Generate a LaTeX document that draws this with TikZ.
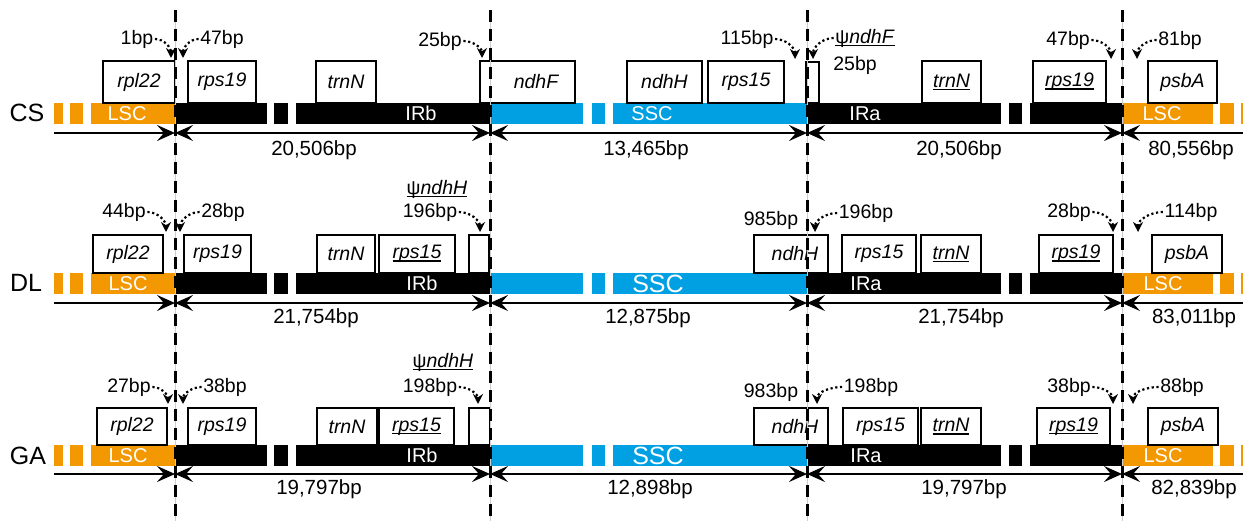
\documentclass[tikz,border=0pt]{standalone}
\usepackage{fontspec}
\setmainfont{Liberation Sans}
\usetikzlibrary{arrows.meta}

\definecolor{lscorange}{RGB}{243,152,0}
\definecolor{sscblue}{RGB}{0,160,227}
\definecolor{guidegray}{RGB}{205,205,205}

% underline that sits just below the baseline
\newcommand\ulgene[1]{\setbox0\hbox{#1}\rlap{\vrule width\wd0 height -1.6pt depth 3.0pt}\box0}

% one genome bar: LSC | IRb | SSC | IRa | LSC, with white stripes
\newcommand\segments[2]{%
  \fill[lscorange] (54,#1) rectangle (175,#2);
  \fill[black] (175,#1) rectangle (490,#2);
  \fill[sscblue] (490,#1) rectangle (807,#2);
  \fill[black] (807,#1) rectangle (1122,#2);
  \fill[lscorange] (1122,#1) rectangle (1243,#2);
  \foreach \a/\b in {63/70,83/91,267/274,288/296,583/592,605/613,1001/1009,1022/1030,1213/1220,1234/1241}
    \fill[white] (\a,#1) rectangle (\b,#2);
}

% gene box: name, left, right, top, bottom, text
\newcommand\gene[6]{%
  \node[genebox, minimum width={(#3-#2)*1pt}, minimum height={(#5-#4)*1pt}]
    (#1) at ({(#2+#3)/2},{(#4+#5)/2}) {#6};}

% length line with arrow tips at every junction
\newcommand\spanline[2]{%
  \coordinate (#1s0) at (54,#2);
  \coordinate (#1s1) at (175,#2);
  \coordinate (#1s2) at (490,#2);
  \coordinate (#1s3) at (807,#2);
  \coordinate (#1s4) at (1122,#2);
  \coordinate (#1s5) at (1243,#2);
  \draw[lenline, -{bigtip}] (#1s0) -- (#1s1);
  \draw[lenline, {bigtip}-{bigtip}] (#1s1) -- (#1s2);
  \draw[lenline, {bigtip}-{bigtip}] (#1s2) -- (#1s3);
  \draw[lenline, {bigtip}-{bigtip}] (#1s3) -- (#1s4);
  \draw[lenline, {bigtip}-] (#1s4) -- (#1s5);
}

\tikzset{
  bigtip/.tip={Stealth[length=18pt,width=16pt,inset=7pt]},
  genebox/.style={draw, line width=1.8pt, fill=white, inner sep=0pt,
    font=\fontsize{19.5}{19.5}\selectfont\itshape},
  genetext/.style={inner sep=0pt, font=\fontsize{19.5}{19.5}\selectfont\itshape},
  bplabel/.style={inner sep=1.5pt, font=\fontsize{19.5}{19.5}\selectfont},
  sizelabel/.style={inner sep=0pt, font=\fontsize{20.5}{20.5}\selectfont},
  barlabel/.style={inner sep=0pt, text=white, font=\fontsize{20}{20}\selectfont},
  bigbarlabel/.style={inner sep=0pt, text=white, font=\fontsize{25}{25}\selectfont},
  rowlabel/.style={inner sep=0pt, font=\fontsize{25}{25}\selectfont},
  lenline/.style={line width=2pt},
  pointer/.style={line width=2.2pt, dash pattern=on 2.2pt off 2.6pt,
    -{Stealth[length=10pt,width=10pt]}},
  junction/.style={line width=3pt, dash pattern=on 12pt off 7pt},
  guide/.style={line width=1pt, guidegray},
}

\begin{document}
\begin{tikzpicture}[x=1pt,y=-1pt]
\useasboundingbox (0,0) rectangle (1243,521);

% ---------- bars ----------
\segments{103}{124}
\segments{273}{294}
\segments{445}{466}

% ---------- row labels ----------
\node[rowlabel] (cs) at (27,113) {CS};
\node[rowlabel] (dl) at (26,283) {DL};
\node[rowlabel] (ga) at (28,456) {GA};

% ---------- region labels ----------
\node[barlabel] (lscA1) at (127,113.5) {LSC};
\node[barlabel] (irbA) at (421,113.5) {IRb};
\node[barlabel] (sscA) at (652,113.5) {SSC};
\node[barlabel] (iraA) at (865,113.5) {IRa};
\node[barlabel] (lscA2) at (1162,113.5) {LSC};

\node[barlabel] (lscB1) at (128,283.5) {LSC};
\node[barlabel] (irbB) at (422,283.5) {IRb};
\node[bigbarlabel] (sscB) at (658,283.5) {SSC};
\node[barlabel] (iraB) at (866,283.5) {IRa};
\node[barlabel] (lscB2) at (1163,283.5) {LSC};

\node[barlabel] (lscC1) at (128,455.5) {LSC};
\node[barlabel] (irbC) at (422,455.5) {IRb};
\node[bigbarlabel] (sscC) at (658,455.5) {SSC};
\node[barlabel] (iraC) at (866,455.5) {IRa};
\node[barlabel] (lscC2) at (1163,455.5) {LSC};

% ---------- genes, CS ----------
\gene{rplA}{103}{175}{61}{103}{rpl22}
\gene{rpsA}{188}{256}{61}{103}{rps19}
\gene{trnA}{316}{376}{61}{103}{trnN}
\gene{ndhFA}{480}{575}{61}{103}{}
\node[genetext] (ndhFAt) at (536,82) {ndhF};
\gene{ndhHA}{627}{702}{61}{103}{ndhH}
\gene{rps15A}{708}{784}{61}{103}{rps15}
\gene{psiA}{806}{819}{62}{103}{}
\gene{trnA2}{922}{981}{61}{103}{\ulgene{trnN}}
\gene{rpsA2}{1033}{1106}{61}{103}{\ulgene{rps19}}
\gene{psbAA}{1148}{1217}{61}{103}{psbA}

% ---------- genes, DL ----------
\gene{rplB}{93}{163}{235}{273}{rpl22}
\gene{rpsB}{184}{251}{235}{273}{rps19}
\gene{trnB}{317}{375}{235}{273}{trnN}
\gene{rps15B}{379}{455}{235}{273}{\ulgene{rps15}}
\gene{psiB}{469}{489}{235}{273}{}
\gene{ndhHB}{754}{828}{235}{273}{}
\node[genetext] (ndhHBt) at (795,254) {ndhH};
\gene{rps15B2}{842}{916}{235}{273}{rps15}
\gene{trnB2}{921}{981}{235}{273}{\ulgene{trnN}}
\gene{rpsB2}{1039}{1113}{235}{273}{\ulgene{rps19}}
\gene{psbAB}{1152}{1222}{235}{273}{psbA}

% ---------- genes, GA ----------
\gene{rplC}{97}{167}{408}{445}{rpl22}
\gene{rpsC}{188}{256}{408}{445}{rps19}
\gene{trnC}{317}{377}{408}{445}{trnN}
\gene{rps15C}{379}{454}{408}{445}{\ulgene{rps15}}
\gene{psiC}{469}{490}{408}{445}{}
\gene{ndhHC}{754}{828}{408}{445}{}
\node[genetext] (ndhHCt) at (795,426.5) {ndhH};
\gene{rps15C2}{843}{918}{408}{445}{rps15}
\gene{trnC2}{921}{981}{408}{445}{\ulgene{trnN}}
\gene{rpsC2}{1037}{1110}{408}{445}{\ulgene{rps19}}
\gene{psbAC}{1148}{1218}{408}{445}{psbA}

% ---------- distance labels and pointers, CS ----------
\node[bplabel] (dA1) at (137,39) {1bp};
\node[bplabel] (dA2) at (222,39) {47bp};
\node[bplabel] (dA3) at (440,41) {25bp};
\node[bplabel] (dA4) at (747,39) {115bp};
\node[bplabel] (dA5) at (865,38) {\ulgene{ψ\textit{ndhF}}};
\node[bplabel] (dA6) at (855,65) {25bp};
\node[bplabel] (dA7) at (1068,40) {47bp};
\node[bplabel] (dA8) at (1180,40) {81bp};
\coordinate (tA1) at (171,58);
\coordinate (tA2) at (183,58);
\coordinate (tA3) at (482,58);
\coordinate (tA4) at (795,59);
\coordinate (tA5) at (813,59);
\coordinate (tA7) at (1111,59);
\coordinate (tA8) at (1137,59);
\draw[pointer] (dA1.east) to[out=0,in=90] (tA1);
\draw[pointer] (dA2.west) to[out=180,in=90] (tA2);
\draw[pointer] (dA3.east) to[out=0,in=90] (tA3);
\draw[pointer] (dA4.east) to[out=0,in=90] (tA4);
\draw[pointer] (dA5.west) to[out=180,in=90] (tA5);
\draw[pointer] (dA7.east) to[out=0,in=90] (tA7);
\draw[pointer] (dA8.west) to[out=180,in=90] (tA8);

% ---------- distance labels and pointers, DL ----------
\node[bplabel] (dB1) at (124,212) {44bp};
\node[bplabel] (dB2) at (223,212) {28bp};
\node[bplabel] (dB3) at (437,189) {\ulgene{ψ\textit{ndhH}}};
\node[bplabel] (dB4) at (430,212) {196bp};
\node[bplabel] (dB5) at (771,220) {985bp};
\node[bplabel] (dB6) at (866,213) {196bp};
\node[bplabel] (dB7) at (1069,212) {28bp};
\node[bplabel] (dB8) at (1191,212) {114bp};
\coordinate (tB1) at (166,232);
\coordinate (tB2) at (180,232);
\coordinate (tB4) at (480,232);
\coordinate (tB6) at (815,232);
\coordinate (tB7) at (1113,232);
\coordinate (tB8) at (1138,232);
\draw[pointer] (dB1.east) to[out=0,in=90] (tB1);
\draw[pointer] (dB2.west) to[out=180,in=90] (tB2);
\draw[pointer] (dB4.east) to[out=0,in=90] (tB4);
\draw[pointer] (dB6.west) to[out=180,in=90] (tB6);
\draw[pointer] (dB7.east) to[out=0,in=90] (tB7);
\draw[pointer] (dB8.west) to[out=180,in=90] (tB8);

% ---------- distance labels and pointers, GA ----------
\node[bplabel] (dC1) at (129,387) {27bp};
\node[bplabel] (dC2) at (225,387) {38bp};
\node[bplabel] (dC3) at (443,362) {\ulgene{ψ\textit{ndhH}}};
\node[bplabel] (dC4) at (430,387) {198bp};
\node[bplabel] (dC5) at (771,392) {983bp};
\node[bplabel] (dC6) at (871,387) {198bp};
\node[bplabel] (dC7) at (1069,387) {38bp};
\node[bplabel] (dC8) at (1182,387) {88bp};
\coordinate (tC1) at (168,404);
\coordinate (tC2) at (183,404);
\coordinate (tC4) at (478,404);
\coordinate (tC6) at (817,404);
\coordinate (tC7) at (1113,404);
\coordinate (tC8) at (1133,404);
\draw[pointer] (dC1.east) to[out=0,in=90] (tC1);
\draw[pointer] (dC2.west) to[out=180,in=90] (tC2);
\draw[pointer] (dC4.east) to[out=0,in=90] (tC4);
\draw[pointer] (dC6.west) to[out=180,in=90] (tC6);
\draw[pointer] (dC7.east) to[out=0,in=90] (tC7);
\draw[pointer] (dC8.west) to[out=180,in=90] (tC8);

% ---------- length lines ----------
\spanline{A}{133}
\spanline{B}{303}
\spanline{C}{474}

% ---------- lengths ----------
\node[sizelabel] (lA1) at (314,150) {20,506bp};
\node[sizelabel] (lA2) at (646,150) {13,465bp};
\node[sizelabel] (lA3) at (959,150) {20,506bp};
\node[sizelabel] (lA4) at (1191,150) {80,556bp};
\node[sizelabel] (lB1) at (316,318) {21,754bp};
\node[sizelabel] (lB2) at (648,318) {12,875bp};
\node[sizelabel] (lB3) at (961,318) {21,754bp};
\node[sizelabel] (lB4) at (1194,318) {83,011bp};
\node[sizelabel] (lC1) at (319,489) {19,797bp};
\node[sizelabel] (lC2) at (650,489) {12,898bp};
\node[sizelabel] (lC3) at (964,489) {19,797bp};
\node[sizelabel] (lC4) at (1194,489) {82,839bp};

% ---------- junction lines ----------
\foreach \j/\x in {1/175,2/490,3/807,4/1122} {
  \coordinate (j\j t) at (\x,10);
  \coordinate (j\j b) at (\x,521);
  \draw[guide] (j\j t) -- (j\j b);
  \draw[junction] (j\j t) -- (j\j b);
}
\end{tikzpicture}
\end{document}
